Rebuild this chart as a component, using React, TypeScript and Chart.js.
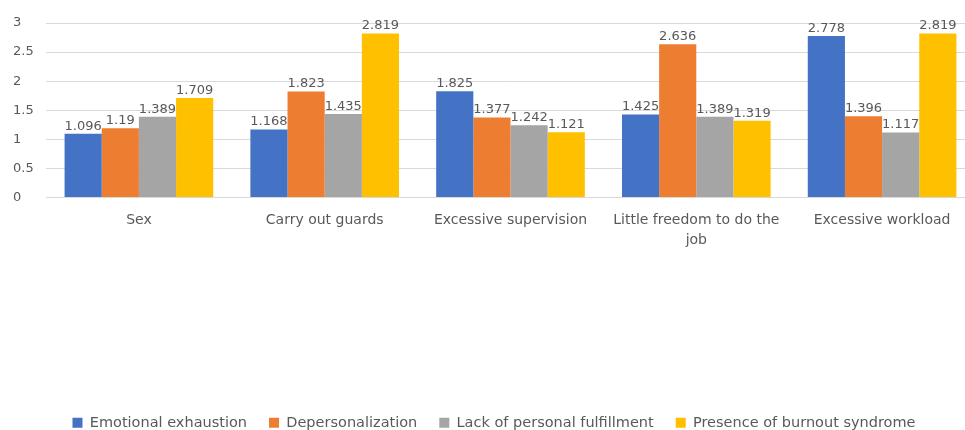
import React, { useEffect, useRef } from "react";
import { Chart, registerables } from "chart.js";

Chart.register(...registerables);

const categories: (string | string[])[] = [
  "Sex",
  "Carry out guards",
  "Excessive supervision",
  ["Little freedom to do the", "job"],
  "Excessive workload",
];
const emotionalExhaustion = [1.096, 1.168, 1.825, 1.425, 2.778];
const depersonalization = [1.19, 1.823, 1.377, 2.636, 1.396];
const lackOfFulfillment = [1.389, 1.435, 1.242, 1.389, 1.117];
const burnoutPresence = [1.709, 2.819, 1.121, 1.319, 2.819];
const seriesNames = [
  "Emotional exhaustion",
  "Depersonalization",
  "Lack of personal fulfillment",
  "Presence of burnout syndrome",
];
const seriesColors = ["#4472C4", "#ED7D31", "#A5A5A5", "#FFC000"];
const yTicks = [0, 0.5, 1, 1.5, 2, 2.5, 3];
const yTickLabels = ["0", "0.5", "1", "1.5", "2", "2.5", "3"];

const FONT = "'DejaVu Sans', 'Open Sans', sans-serif";
const TEXT = "#595959";

const valueLabels = {
  id: "valueLabels",
  afterDatasetsDraw(chart: any) {
    const ctx = chart.ctx;
    ctx.save();
    ctx.font = `13px ${FONT}`;
    ctx.fillStyle = TEXT;
    ctx.textAlign = "center";
    ctx.textBaseline = "bottom";
    chart.data.datasets.forEach((ds: any, i: number) => {
      const meta = chart.getDatasetMeta(i);
      meta.data.forEach((el: any, j: number) => {
        ctx.fillText(String(ds.data[j]), el.x, el.y - 1);
      });
    });
    ctx.restore();
  },
};

export default function App() {
  const ref = useRef<HTMLCanvasElement>(null);
  useEffect(() => {
    const all = [emotionalExhaustion, depersonalization, lackOfFulfillment, burnoutPresence];
    const chart = new Chart(ref.current!, {
      type: "bar",
      data: {
        labels: categories,
        datasets: all.map((d, i) => ({
          label: seriesNames[i],
          data: d,
          backgroundColor: seriesColors[i],
          borderWidth: 0,
          categoryPercentage: 0.8,
          barPercentage: 1.0,
        })),
      },
      options: {
        responsive: false,
        animation: false,
        devicePixelRatio: 1,
        layout: { padding: { top: 23, left: 13, right: 10, bottom: 0 } },
        plugins: {
          tooltip: { enabled: false },
          legend: {
            position: "bottom",
            labels: {
              boxWidth: 10,
              boxHeight: 10,
              padding: 22,
              color: TEXT,
              font: { family: FONT, size: 14.5 },
            },
          },
        },
        scales: {
          x: {
            grid: { display: false, drawTicks: false },
            border: { display: false },
            ticks: {
              color: TEXT,
              font: { family: FONT, size: 14, lineHeight: 1.43 },
              padding: 13,
              maxRotation: 0,
              autoSkip: false,
            },
            afterFit(scale: any) {
              scale.height = 196;
            },
          },
          y: {
            min: 0,
            max: 3,
            afterBuildTicks(scale: any) {
              scale.ticks = yTicks.map((v) => ({ value: v }));
            },
            grid: { color: "#D9D9D9", drawTicks: false },
            border: { display: false },
            ticks: {
              color: TEXT,
              font: { family: FONT, size: 13 },
              crossAlign: "far",
              padding: 8,
              callback: (_v: any, i: number) => yTickLabels[i],
            },
            afterFit(scale: any) {
              scale.width = 33;
            },
          },
        },
      },
      plugins: [valueLabels],
    });
    return () => chart.destroy();
  }, []);
  return (
    <div style={{ position: "fixed", left: 0, top: 0, width: 965, height: 430, overflow: "hidden", background: "#fff" }}>
      <canvas ref={ref} width={985} height={440} style={{ display: "block" }} />
    </div>
  );
}
